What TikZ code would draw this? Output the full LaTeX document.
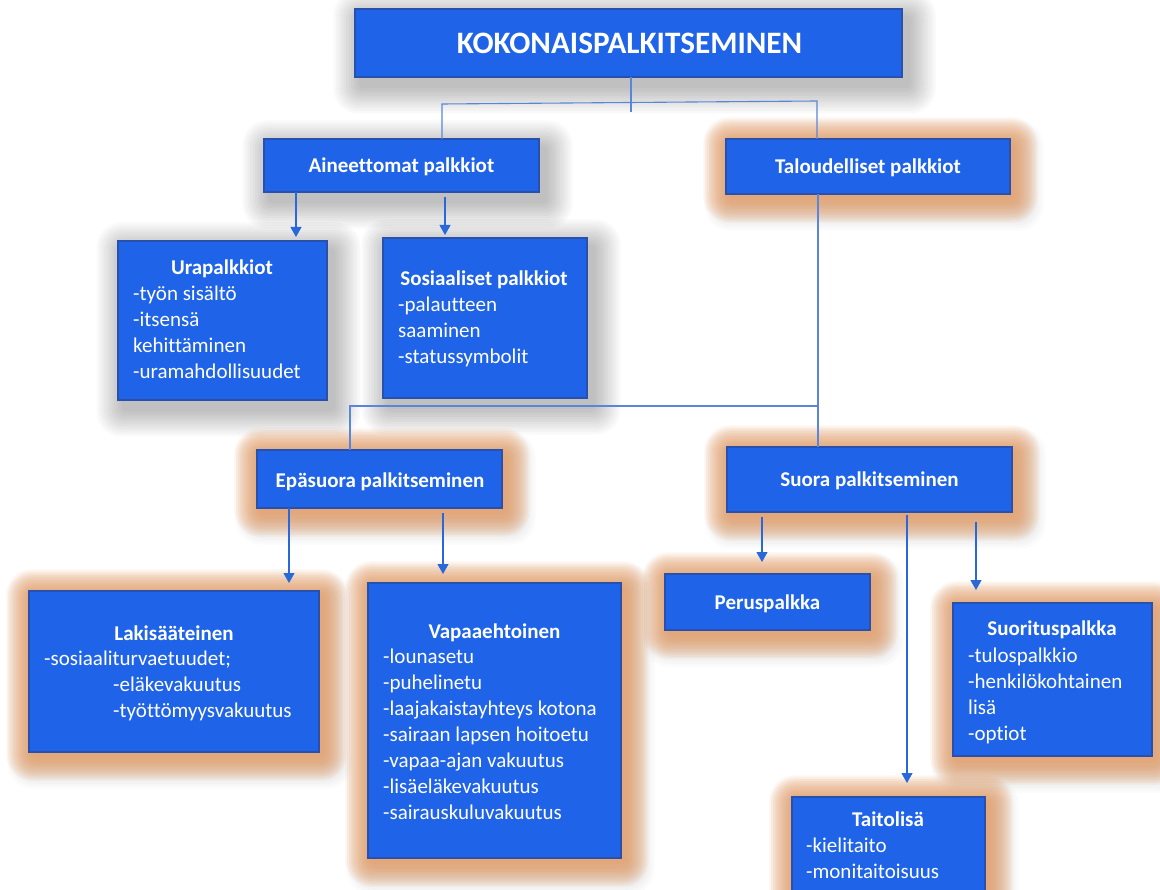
\documentclass[tikz,border=0pt]{standalone}
\usepackage{fontspec}
\setmainfont{Carlito}[Ligatures=NoCommon]
\usetikzlibrary{arrows.meta,fit}
\definecolor{boxblue}{HTML}{1F64E8}
\definecolor{boxedge}{HTML}{2A50AE}
\definecolor{linkblue}{HTML}{5A86DA}
\definecolor{arrblue}{HTML}{2868DA}
\definecolor{glowc}{HTML}{EE9A5A}
\tikzset{
  box/.style={draw=boxedge, line width=1.2pt, fill=boxblue, inner sep=0pt, outer sep=0pt},
  txt/.style={text=white, inner sep=0pt, anchor=base west, font=\fontsize{21}{26}\selectfont},
  ttl/.style={text=white, inner sep=0pt, anchor=base, font=\fontsize{21}{26}\selectfont\bfseries},
  link/.style={draw=linkblue, line width=1.1pt},
  arr/.style={draw=arrblue, line width=1.1pt, -{Triangle[width=11pt,length=10pt]}},
}
\newcommand\shadowlayers[5]{%
  \foreach \i in {1,...,11}{
    \fill[black, fill opacity=#5, rounded corners={3pt+\i*2pt}]
      ({#1+6-\i*2.5},{#2+9-\i*2.5}) rectangle ({#3+6+\i*2.5},{#4+9+\i*2.5});
  }}
\newcommand\glowlayers[4]{%
  \foreach \i in {1,...,13}{
    \fill[glowc, fill opacity=0.085, rounded corners={3pt+\i*1.8pt}]
      ({#1+2-\i*1.9},{#2+3-\i*1.9}) rectangle ({#3+3+\i*1.9},{#4+4+\i*1.9});
  }}
\begin{document}
\begin{tikzpicture}[x=1pt,y=-1pt]
\useasboundingbox (0,0) rectangle (1160,890);
\fill[white] (0,0) rectangle (1160,890);
% shadows
\shadowlayers{355}{9}{902}{77}{0.022}
\shadowlayers{264}{139}{539}{192}{0.022}
\shadowlayers{726}{139}{1010}{194}{0.014}
\shadowlayers{118}{241}{327}{400}{0.022}
\shadowlayers{383}{238}{587}{398}{0.022}
\shadowlayers{257}{450}{502}{508}{0.014}
\shadowlayers{727}{447}{1012}{512}{0.014}
\shadowlayers{29}{591}{319}{752}{0.014}
\shadowlayers{368}{583}{621}{858}{0.014}
\shadowlayers{665}{574}{870}{630}{0.014}
\shadowlayers{953}{603}{1152}{756}{0.014}
\shadowlayers{792}{797}{985}{900}{0.014}
% glows
\glowlayers{726}{139}{1010}{194}
\glowlayers{257}{450}{502}{508}
\glowlayers{727}{447}{1012}{512}
\glowlayers{29}{591}{319}{752}
\glowlayers{368}{583}{621}{858}
\glowlayers{665}{574}{870}{630}
\glowlayers{953}{603}{1152}{756}
\glowlayers{792}{797}{985}{900}
% boxes
\node[box, fit={(355,9) (902,77)}] (koko) {};
\node[box, fit={(264,139) (539,192)}] (aine) {};
\node[box, fit={(726,139) (1010,194)}] (talo) {};
\node[box, fit={(118,241) (327,400)}] (ura) {};
\node[box, fit={(383,238) (587,398)}] (sos) {};
\node[box, fit={(257,450) (502,508)}] (epa) {};
\node[box, fit={(727,447) (1012,512)}] (suora) {};
\node[box, fit={(29,591) (319,752)}] (laki) {};
\node[box, fit={(368,583) (621,858)}] (vapa) {};
\node[box, fit={(665,574) (870,630)}] (perus) {};
\node[box, fit={(953,603) (1152,756)}] (suor) {};
\node[box, fit={(792,797) (985,900)}] (taito) {};
% connectors
\draw[link] ([xshift=2.5pt]koko.south) -- ++(0,35);
\draw[link] ([xshift=40.5pt]aine.north) -- ++(0,-35) -- ++(375,-3) -- ([xshift=-51pt]talo.north);
\draw[link] ([xshift=-50pt]talo.south) -- ([xshift=-51.5pt]suora.north);
\draw[link] ([xshift=-29.5pt]epa.north) -- ++(0,-44) -- ++(468,0);
\draw[arr] ([xshift=-105.5pt]aine.south) -- ++(0,45);
\draw[arr] ([xshift=43.5pt,yshift=-5pt]aine.south) -- ++(0,38);
\draw[arr] ([xshift=-90.5pt]epa.south) -- ++(0,75);
\draw[arr] ([xshift=63.5pt,yshift=-5pt]epa.south) -- ++(0,61);
\draw[arr] ([xshift=-107.5pt,yshift=-5pt]suora.south) -- ++(0,45);
\draw[arr] ([xshift=37.5pt,yshift=-3pt]suora.south) -- ++(0,268);
\draw[arr] ([xshift=106.5pt,yshift=-10pt]suora.south) -- ++(0,68);
% texts
\node[ttl, font=\fontsize{31.2}{36}\selectfont\bfseries] (tkoko) at (629.5,54) {KOKONAISPALKITSEMINEN};
\node[ttl] (taine) at (401.5,173) {Aineettomat palkkiot};
\node[ttl] (ttalo) at (868,174) {Taloudelliset palkkiot};
\node[ttl] (tura) at (222,275) {Urapalkkiot};
\foreach \t [count=\k] in {-työn sisältö,-itsensä,kehittäminen,-uramahdollisuudet}
  \node[txt] (ura\k) at (133,{275+26*\k}) {\t};
\node[ttl] (tsos) at (484,286) {Sosiaaliset palkkiot};
\foreach \t [count=\k] in {-palautteen,saaminen,-statussymbolit}
  \node[txt] (sos\k) at (398,{286+26*\k}) {\t};
\node[ttl] (tepa) at (380,488) {Epäsuora palkitseminen};
\node[ttl] (tsuora) at (869.5,487) {Suora palkitseminen};
\node[ttl] (tlaki) at (174,640) {Lakisääteinen};
\node[txt] (laki1) at (44,665) {-sosiaaliturvaetuudet;};
\node[txt] (laki2) at (113,691) {-eläkevakuutus};
\node[txt] (laki3) at (113,717) {-työttömyysvakuutus};
\node[ttl] (tvapa) at (494.5,638) {Vapaaehtoinen};
\foreach \t [count=\k] in {-lounasetu,-puhelinetu,-laajakaistayhteys kotona,-sairaan lapsen hoitoetu,-vapaa-ajan vakuutus,-lisäeläkevakuutus,-sairauskuluvakuutus}
  \node[txt] (vapa\k) at (383,{637+26*\k}) {\t};
\node[ttl] (tperus) at (767.5,609) {Peruspalkka};
\node[ttl] (tsuor) at (1052,635) {Suorituspalkka};
\foreach \t [count=\k] in {-tulospalkkio,-henkilökohtainen,lisä,-optiot}
  \node[txt] (suor\k) at (968,{636+26*\k}) {\t};
\node[ttl] (ttaito) at (888,826) {Taitolisä};
\foreach \t [count=\k] in {-kielitaito,-monitaitoisuus}
  \node[txt] (taito\k) at (806,{826+26*\k}) {\t};
\end{tikzpicture}
\end{document}
